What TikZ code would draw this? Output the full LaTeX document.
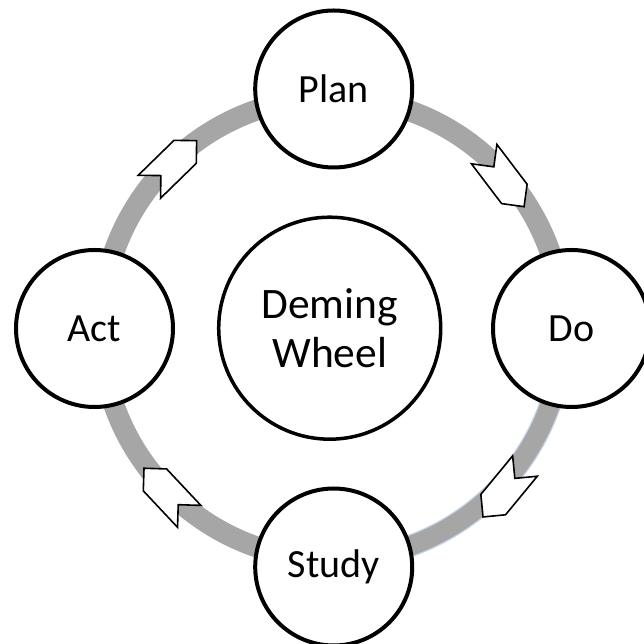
\documentclass[tikz,border=0pt]{standalone}
\usepackage{fontspec}
\setmainfont{Carlito}
\usetikzlibrary{calc}
\definecolor{ringgray}{RGB}{166,166,166}
\definecolor{ringblue}{RGB}{197,213,234}
\begin{document}
\begin{tikzpicture}[x=1pt,y=1pt,
  stage/.style={circle, draw=black, line width=4pt, fill=white, minimum size=157pt, inner sep=0pt, font=\fontsize{40}{49}\selectfont, align=center},
  hub/.style={stage, line width=3.5pt, minimum size=222pt, font=\fontsize{43.5}{49.5}\selectfont},
  ringline/.style={draw=ringgray, line width=21pt},
  ringedge/.style={draw=ringblue, line width=1.2pt},
  cyclearrow/.style={draw=black, line width=1.6pt, fill=white, line join=miter}
]
\useasboundingbox (0,0) rectangle (643,644);
% ring
\coordinate (ctr) at (332,315.5);
\draw[ringline] (ctr) circle[radius=231];
% faint blue edge on the lower right quarter
\draw[ringedge] ($(ctr)+(-2:241.5)$) arc[start angle=-2, end angle=-88, radius=241.5];
\draw[ringedge] ($(ctr)+(-2:220.5)$) arc[start angle=-2, end angle=-88, radius=220.5];
% arrows on the ring
\foreach \cx/\cy/\ang in {504.1/463.6/-52.8, 504/152.5/230.5, 166.6/151.7/133.2, 173/480.3/44.3}{
  \draw[cyclearrow, shift={(\cx,\cy)}, rotate=\ang]
    (-33,16) -- (17,16) -- (33,0) -- (17,-16) -- (-33,-16) -- (-17,0) -- cycle;
}
% stages
\node[stage] (plan)  at (333.7,555)  {Plan};
\node[stage] (do)    at (571.5,315.5) {Do};
\node[stage] (study) at (333.7,77)   {Study};
\node[stage] (act)   at (94.5,315.5) {Act};
\node[hub]   (hub)   at (329.7,315.8) {Deming\\Wheel};
\end{tikzpicture}
\end{document}
